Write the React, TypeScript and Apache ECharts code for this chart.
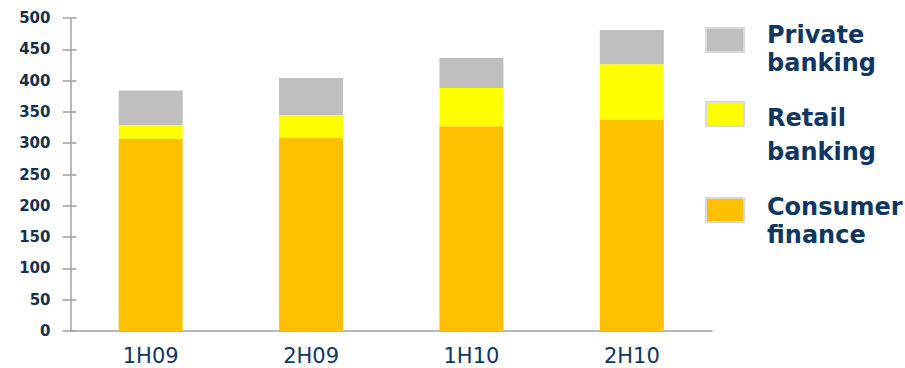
import React, { useEffect, useRef } from "react";
import * as echarts from "echarts";

// Half-year periods on the x axis
const periods = ["1H09", "2H09", "1H10", "2H10"];

// Stacked segments, bottom to top
const consumerFinance = [307, 309, 327, 337];
const retailBanking = [22, 36, 61, 89];
const privateBanking = [55, 59, 48, 55];

// Value axis ticks
const yTicks = [0, 50, 100, 150, 200, 250, 300, 350, 400, 450, 500];

const NAVY = "#0f3763";
const COLORS = {
  consumer: "#FFC000",
  retail: "#FFFF00",
  private: "#BFBFBF",
};

// Legend entries drawn beside the plot (label lines stacked under each other)
const legendItems = [
  { color: COLORS.private, lines: ["Private", "banking"], swatchY: 28, lineY: [35, 63] },
  { color: COLORS.retail, lines: ["Retail", "banking"], swatchY: 102, lineY: [118, 152] },
  { color: COLORS.consumer, lines: ["Consumer", "finance"], swatchY: 198, lineY: [207, 235] },
];

export default function App() {
  const ref = useRef<HTMLDivElement>(null);

  useEffect(() => {
    if (!ref.current) return;
    const chart = echarts.init(ref.current, undefined, { renderer: "svg" });

    const yMin = yTicks[0];
    const yMax = yTicks[yTicks.length - 1];
    const yStep = yTicks[1] - yTicks[0];

    const legendGraphics: any[] = [];
    legendItems.forEach((item) => {
      legendGraphics.push({
        type: "rect",
        shape: { x: 706, y: item.swatchY, width: 38, height: 24 },
        style: { fill: item.color, stroke: "#D9D9D9", lineWidth: 2 },
      });
      item.lines.forEach((line, i) => {
        legendGraphics.push({
          type: "text",
          x: 767,
          y: item.lineY[i],
          style: {
            text: line,
            fill: NAVY,
            font: "bold 24px 'DejaVu Sans'",
            verticalAlign: "middle",
            align: "left",
          },
        });
      });
    });

    const barStyle = { barWidth: 64, stack: "total" };

    chart.setOption({
      animation: false,
      backgroundColor: "#ffffff",
      grid: { left: 70.5, right: 193, top: 18, bottom: 37 },
      xAxis: {
        type: "category",
        data: periods,
        axisLine: { lineStyle: { color: "#A0A0A0", width: 1.5 } },
        axisTick: { show: false },
        axisLabel: {
          color: NAVY,
          fontSize: 21,
          fontFamily: "DejaVu Sans",
          margin: 14,
        },
      },
      yAxis: [
        {
          type: "value",
          min: yMin,
          max: yMax,
          interval: yStep,
          splitLine: { show: false },
          axisLine: { show: true, lineStyle: { color: "#A0A0A0", width: 1.5 } },
          axisTick: { show: true, length: 8, lineStyle: { color: "#A0A0A0", width: 1.5 } },
          axisLabel: {
            color: "#13304f",
            fontSize: 15,
            fontWeight: "bold",
            fontFamily: "DejaVu Sans",
            margin: 20,
          },
        },
        {
          // inner half of the crossing tick marks
          type: "value",
          position: "left",
          min: yMin,
          max: yMax,
          interval: yStep,
          splitLine: { show: false },
          axisLine: { show: false },
          axisTick: { show: true, inside: true, length: 6, lineStyle: { color: "#A0A0A0", width: 1.5 } },
          axisLabel: { show: false },
        },
      ],
      series: [
        {
          name: "Consumer finance",
          type: "bar",
          ...barStyle,
          data: consumerFinance,
          itemStyle: { color: COLORS.consumer },
        },
        {
          name: "Retail banking",
          type: "bar",
          ...barStyle,
          data: retailBanking,
          itemStyle: { color: COLORS.retail },
        },
        {
          name: "Private banking",
          type: "bar",
          ...barStyle,
          data: privateBanking,
          itemStyle: { color: COLORS.private },
        },
      ],
      graphic: legendGraphics,
    });

    return () => chart.dispose();
  }, []);

  return (
    <div
      ref={ref}
      style={{ position: "fixed", left: 0, top: 0, width: 905, height: 368 }}
    />
  );
}
